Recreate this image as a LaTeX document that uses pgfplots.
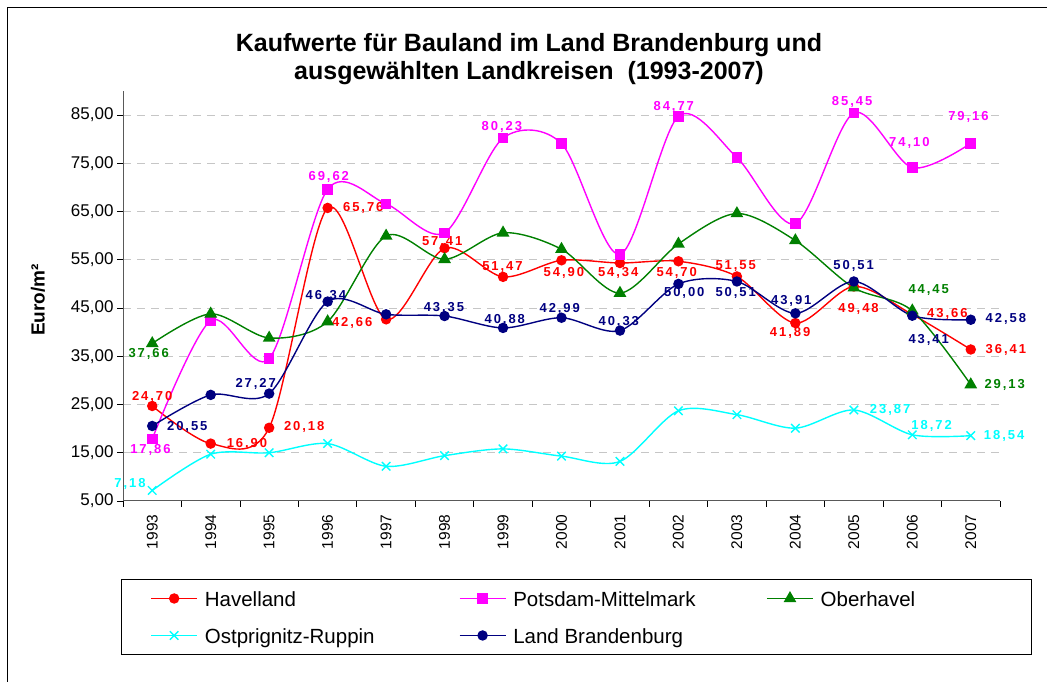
\documentclass[border=0pt]{standalone}
\usepackage{pgfplots}
\usepackage{pgfplotstable}
\pgfplotsset{compat=1.18}
\usepackage{fontspec}
\setmainfont{Liberation Sans}
\newfontfamily\lblfont[LetterSpace=15]{Liberation Sans}
\definecolor{cRed}{RGB}{255,0,0}
\definecolor{cMag}{RGB}{255,0,255}
\definecolor{cGreen}{RGB}{0,128,0}
\definecolor{cCyan}{RGB}{0,255,255}
\definecolor{cNavy}{RGB}{0,0,128}
\tikzset{lbl/.style={font=\lblfont\bfseries\fontsize{13}{15}\selectfont, inner sep=0pt}}

\pgfplotstableread{
year hav pm ober opr lb
1993 24.70 17.86 37.66 7.18 20.55
1994 16.90 42.40 43.80 14.70 27.00
1995 20.18 34.50 38.80 15.00 27.27
1996 65.76 69.62 42.20 16.90 46.34
1997 42.66 66.60 59.95 12.20 43.70
1998 57.41 60.60 55.10 14.40 43.35
1999 51.47 80.23 60.60 15.80 40.88
2000 54.90 79.10 57.20 14.30 42.99
2001 54.34 56.10 48.10 13.20 40.33
2002 54.70 84.77 58.30 23.70 50.00
2003 51.55 76.20 64.60 22.90 50.51
2004 41.89 62.50 59.00 20.10 43.91
2005 49.48 85.45 49.20 23.87 50.51
2006 43.66 74.10 44.45 18.72 43.41
2007 36.41 79.16 29.13 18.54 42.58
}\datatable

\begin{document}
\begin{tikzpicture}
\path[use as bounding box] (0pt,0pt) rectangle (1047pt,682pt);
\draw[line width=1.2pt] (7.5pt,0pt) -- (7.5pt,674.5pt) -- (1047pt,674.5pt);
\node[font=\bfseries\fontsize{25}{28}\selectfont, align=center] at (529pt,623pt)
  {Kaufwerte für Bauland im Land Brandenburg und\\ausgewählten Landkreisen\ \ (1993-2007)};
\begin{axis}[
  at={(123pt,181pt)}, anchor=south west,
  scale only axis, width=877pt, height=410pt,
  xmin=1992.5, xmax=2007.5, ymin=5, ymax=90,
  clip=false,
  axis lines=left,
  axis line style={-, draw=gray!70!black, line width=1pt},
  xtick={1993,1994,...,2007},
  minor xtick={1992.5,1993.5,...,2007.5},
  major x tick style={draw=none},
  minor tick style={draw=black, line width=0.8pt},
  major tick style={draw=black, line width=0.8pt},
  tick align=outside,
  major tick length=6pt, minor tick length=6pt,
  ytick={5,15,...,85},
  ymajorgrids,
  grid style={gray!45, line width=1pt, dash pattern=on 8pt off 6pt},
  xticklabel style={yshift=-4pt, rotate=90, anchor=east, font=\fontsize{15.5}{18}\selectfont,
    /pgf/number format/.cd, 1000 sep={}, fixed, precision=0, assume math mode=true},
  yticklabel style={font=\fontsize{17}{20}\selectfont,
    /pgf/number format/.cd, fixed, fixed zerofill, precision=2, use comma, assume math mode=true},
  ylabel={Euro/m²},
  ylabel style={font=\bfseries\fontsize{19}{22}\selectfont, at={(axis description cs:-0.0969,0.49)}, anchor=center},
  legend columns=3,
  legend style={at={(axis description cs:-0.0023,-0.1902)}, anchor=north west,
    draw=black, line width=1pt, inner xsep=29pt, inner ysep=5pt, row sep=9pt,
    font=\fontsize{20.5}{24}\selectfont,
    nodes={inner sep=0pt, text height=22.5pt, text depth=5.5pt, anchor=west},
    /tikz/every odd column/.append style={column sep=7pt},
    /tikz/every even column/.append style={column sep=0pt}},
  legend image code/.code={\draw[mark repeat=2,mark phase=2,#1] plot coordinates {(0pt,0pt) (23pt,0pt) (46pt,0pt)};},
  every axis plot/.append style={line width=1.4pt, smooth},
]
\addplot[cRed, mark=*, mark size=4.5pt, mark options={solid, fill=cRed}] table[x=year,y=hav] {\datatable};
\addlegendentry{\makebox[254pt][l]{Havelland}}
\addplot[cMag, mark=square*, mark size=4.6pt, mark options={solid, fill=cMag}] table[x=year,y=pm] {\datatable};
\addlegendentry{\makebox[253pt][l]{Potsdam-Mittelmark}}
\addplot[cGreen, mark=triangle*, mark size=6pt, mark options={solid, fill=cGreen}] table[x=year,y=ober] {\datatable};
\addlegendentry{\makebox[182pt][l]{Oberhavel}}
\addplot[cCyan, mark=x, mark size=6pt, mark options={solid}] table[x=year,y=opr] {\datatable};
\addlegendentry{\makebox[254pt][l]{Ostprignitz-Ruppin}}
\addplot[cNavy, mark=*, mark size=4.5pt, mark options={solid, fill=cNavy}] table[x=year,y=lb] {\datatable};
\addlegendentry{\makebox[253pt][l]{Land Brandenburg}}

% data labels
\node[lbl, text=cMag] at (axis cs:1996.02,72.11) {69,62};
\node[lbl, text=cRed] at (axis cs:1996.61,65.68) {65,76};
\node[lbl, text=cRed] at (axis cs:1997.96,58.76) {57,41};
\node[lbl, text=cMag] at (axis cs:1998.98,82.47) {80,23};
\node[lbl, text=cMag] at (axis cs:2001.92,86.62) {84,77};
\node[lbl, text=cRed] at (axis cs:1998.99,53.58) {51,47};
\node[lbl, text=cRed] at (axis cs:2000.04,52.2) {54,90};
\node[lbl, text=cRed] at (axis cs:2000.97,52.2) {54,34};
\node[lbl, text=cRed] at (axis cs:2001.97,52.2) {54,70};
\node[lbl, text=cNavy] at (axis cs:2002.1,48.06) {50,00};
\node[lbl, text=cRed] at (axis cs:2002.98,53.72) {51,55};
\node[lbl, text=cNavy] at (axis cs:2002.98,48.1) {50,51};
\node[lbl, text=cMag] at (axis cs:2004.97,87.66) {85,45};
\node[lbl, text=cMag] at (axis cs:2005.95,79.16) {74,10};
\node[lbl, text=cMag] at (axis cs:2006.96,84.55) {79,16};
\node[lbl, text=cNavy] at (axis cs:2004.996,53.79) {50,51};
\node[lbl, text=cGreen] at (axis cs:2006.28,48.75) {44,45};
\node[lbl, text=cGreen] at (axis cs:1992.94,35.48) {37,66};
\node[lbl, text=cRed] at (axis cs:1993.0,26.5) {24,70};
\node[lbl, text=cNavy] at (axis cs:1993.6,20.41) {20,55};
\node[lbl, text=cMag] at (axis cs:1992.97,15.58) {17,86};
\node[lbl, text=cCyan] at (axis cs:1992.62,8.53) {7,18};
\node[lbl, text=cRed] at (axis cs:1994.62,16.76) {16,90};
\node[lbl, text=cNavy] at (axis cs:1994.77,29.26) {27,27};
\node[lbl, text=cRed] at (axis cs:1995.6,20.41) {20,18};
\node[lbl, text=cNavy] at (axis cs:1995.97,47.57) {46,34};
\node[lbl, text=cRed] at (axis cs:1996.42,41.84) {42,66};
\node[lbl, text=cNavy] at (axis cs:1997.99,45.0) {43,35};
\node[lbl, text=cNavy] at (axis cs:1999.03,42.53) {40,88};
\node[lbl, text=cNavy] at (axis cs:1999.97,44.75) {42,99};
\node[lbl, text=cNavy] at (axis cs:2000.98,42.18) {40,33};
\node[lbl, text=cNavy] at (axis cs:2003.93,46.53) {43,91};
\node[lbl, text=cRed] at (axis cs:2003.91,39.77) {41,89};
\node[lbl, text=cRed] at (axis cs:2005.08,44.75) {49,48};
\node[lbl, text=cRed] at (axis cs:2006.6,43.77) {43,66};
\node[lbl, text=cNavy] at (axis cs:2006.28,38.38) {43,41};
\node[lbl, text=cNavy] at (axis cs:2007.6,42.67) {42,58};
\node[lbl, text=cRed] at (axis cs:2007.6,36.31) {36,41};
\node[lbl, text=cGreen] at (axis cs:2007.58,29.05) {29,13};
\node[lbl, text=cCyan] at (axis cs:2005.62,23.87) {23,87};
\node[lbl, text=cCyan] at (axis cs:2006.33,20.55) {18,72};
\node[lbl, text=cCyan] at (axis cs:2007.57,18.48) {18,54};
\end{axis}
\end{tikzpicture}
\end{document}
